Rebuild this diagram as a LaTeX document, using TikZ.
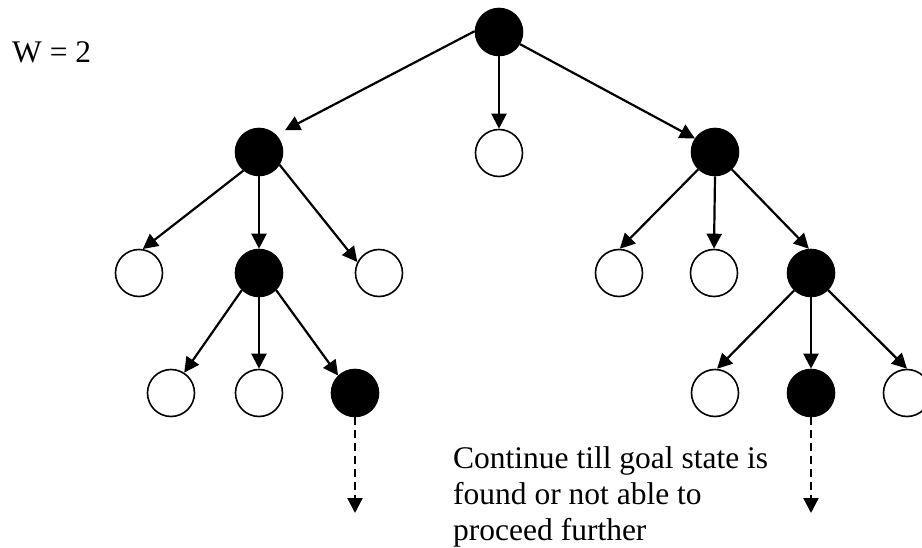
\documentclass[tikz,border=0pt]{standalone}
\usepackage{fontspec}
\setmainfont{Liberation Serif}
\usetikzlibrary{arrows.meta}
\begin{document}
\begin{tikzpicture}[x=1pt,y=-1pt,
  st/.style={circle,draw=black,line width=1.6pt,minimum size=47pt,inner sep=0pt},
  full/.style={st,fill=black},
  empty/.style={st,fill=white},
  edge/.style={line width=2.2pt,-{Triangle[length=15pt,width=15pt]}},
  dedge/.style={edge,dash pattern=on 8pt off 5pt},
  lbl/.style={font=\fontsize{31.5}{36}\selectfont,inner sep=0pt}
]
\useasboundingbox (0,0) rectangle (922,548);
\clip (0,0) rectangle (922,548);
% nodes
\node[full]  (r)   at (499,32)  {};
\node[full]  (a)   at (259,152) {};
\node[empty] (b)   at (499,153) {};
\node[full]  (c)   at (715,152) {};
\node[empty] (a1)  at (139,273) {};
\node[full]  (a2)  at (259,273) {};
\node[empty] (a3)  at (379,273) {};
\node[empty] (c1)  at (619,273) {};
\node[empty] (c2)  at (714,273) {};
\node[full]  (c3)  at (811,273) {};
\node[empty] (a21) at (171,393) {};
\node[empty] (a22) at (259,393) {};
\node[full]  (a23) at (355,393) {};
\node[empty] (c31) at (715,393) {};
\node[full]  (c32) at (811,393) {};
\node[empty] (c33) at (907,393) {};
\coordinate (da) at (355,513);
\coordinate (dc) at (811,513);
% edges
\draw[edge,shorten >=10pt] (r.178) -- (a.45);
\draw[edge] (r.south) -- (b.north);
\draw[edge] (r.330) -- (c.146);
\draw[edge] (a.230) -- (a1.81);
\draw[edge] (a.south) -- (a2.north);
\draw[edge] (a.328) -- (a3.153);
\draw[edge] (c.226) -- (c1.88);
\draw[edge] (c.south) -- (c2.north);
\draw[edge] (c.314) -- (c3.95);
\draw[edge] (a2.225) -- (a21.57);
\draw[edge] (a2.south) -- (a22.north);
\draw[edge] (a2.315) -- (a23.134);
\draw[edge] (c3.226) -- (c31.85);
\draw[edge] (c3.south) -- (c32.north);
\draw[edge] (c3.315) -- (c33.90);
\draw[dedge] (a23.south) -- (da);
\draw[dedge] (c32.south) -- (dc);
% labels
\node[lbl,anchor=base west] (w) at (12,63) {W = 2};
\node[lbl,anchor=base west,align=left] (t) at (453,540)
  {Continue till goal state is\\found or not able to\\proceed further};
\end{tikzpicture}
\end{document}
